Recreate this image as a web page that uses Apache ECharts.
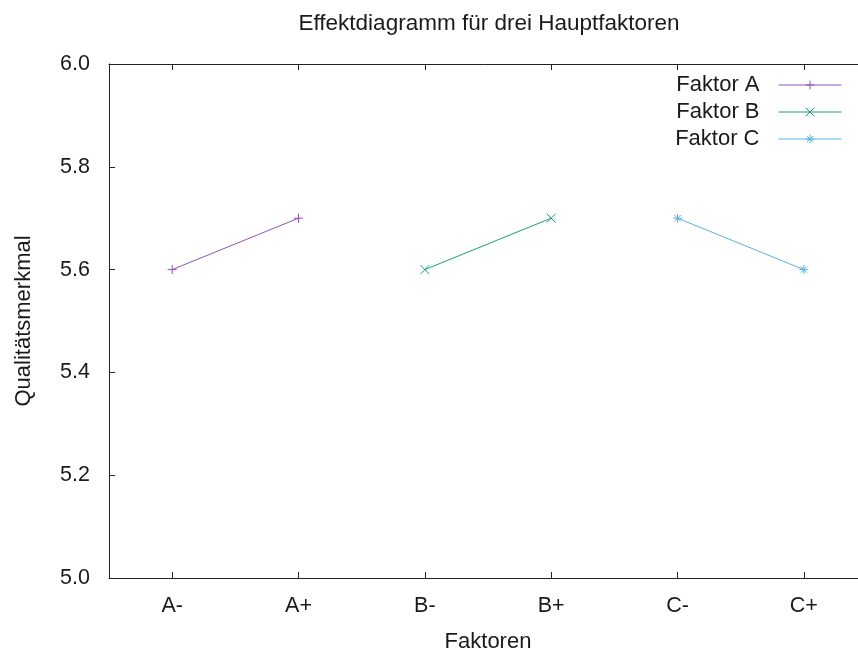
<!DOCTYPE html>
<html>
<head>
<meta charset="utf-8">
<script src="https://cdn.jsdelivr.net/npm/echarts@6/dist/echarts.min.js"></script>
<style>html,body{margin:0;padding:0;background:#fff}#c{width:858px;height:656px}</style>
</head>
<body>
<div id="c"></div>
<script>
var categories = ['A-', 'A+', 'B-', 'B+', 'C-', 'C+'];
var seriesNames = ['Faktor A', 'Faktor B', 'Faktor C'];
var factorACats = ['A-', 'A+'];
var factorAValues = [5.6, 5.7];
var factorBCats = ['B-', 'B+'];
var factorBValues = [5.6, 5.7];
var factorCCats = ['C-', 'C+'];
var factorCValues = [5.7, 5.6];
var yTicks = [5.0, 5.2, 5.4, 5.6, 5.8, 6.0];

var FONT = '"Liberation Sans", Arial, sans-serif';
var colors = ['#9450c4', '#14a47a', '#56b4e9'];
var symbols = [
  'path://M5,0L5,10M0,5L10,5',
  'path://M0,0L10,10M10,0L0,10',
  'path://M5,0L5,10M0,5L10,5M1.5,1.5L8.5,8.5M8.5,1.5L1.5,8.5'
];

function pairs(cats, vals) {
  return cats.map(function (c, i) { return [c, vals[i]]; });
}
var datasets = [pairs(factorACats, factorAValues), pairs(factorBCats, factorBValues), pairs(factorCCats, factorCValues)];

var axisLine = { show: true, lineStyle: { color: '#222', width: 1 } };

var chart = echarts.init(document.getElementById('c'), null, { renderer: 'canvas' });
chart.setOption({
  animation: false,
  backgroundColor: '#fff',
  title: {
    text: 'Effektdiagramm für drei Hauptfaktoren',
    left: 484, textAlign: 'center', top: 7,
    textStyle: { fontFamily: FONT, fontSize: 22.5, fontWeight: 'normal', color: '#1a1a1a' }
  },
  grid: { left: 109, top: 64, width: 758, height: 514, containLabel: false, outerBoundsMode: 'none' },
  legend: {
    orient: 'vertical', right: 11, top: 69, align: 'right',
    itemWidth: 63, itemHeight: 11, itemGap: 5,
    lineStyle: { width: 1 },
    itemStyle: { borderWidth: 1 },
    textStyle: { fontFamily: FONT, fontSize: 22, color: '#1a1a1a', padding: [0, 14, 0, 0] },
    data: seriesNames
  },
  xAxis: [{
    type: 'category', data: categories, position: 'bottom', boundaryGap: true,
    axisLine: axisLine,
    axisTick: { show: true, inside: true, length: 6, alignWithLabel: true, lineStyle: { color: '#222' } },
    axisLabel: { fontFamily: FONT, fontSize: 21.5, color: '#1a1a1a', margin: 17 },
    splitLine: { show: false },
    name: 'Faktoren', nameLocation: 'middle', nameGap: 53,
    nameTextStyle: { fontFamily: FONT, fontSize: 22, color: '#1a1a1a' }
  }, {
    type: 'category', data: categories, position: 'top', boundaryGap: true,
    axisLine: axisLine,
    axisTick: { show: true, inside: true, length: 6, alignWithLabel: true, lineStyle: { color: '#222' } },
    axisLabel: { show: false }, splitLine: { show: false }
  }],
  yAxis: [{
    type: 'value', position: 'left', min: 5.0, max: 6.0, interval: 0.2,
    axisLine: axisLine,
    axisTick: { show: true, inside: true, length: 6, lineStyle: { color: '#222' } },
    axisLabel: { fontFamily: FONT, fontSize: 21.5, color: '#1a1a1a', margin: 19,
      formatter: function (v) { return v.toFixed(1); } },
    splitLine: { show: false },
    name: 'Qualitätsmerkmal', nameLocation: 'middle', nameGap: 74, nameRotate: 90,
    nameTextStyle: { fontFamily: FONT, fontSize: 22, color: '#1a1a1a' }
  }, {
    type: 'value', position: 'right', min: 5.0, max: 6.0, interval: 0.2,
    axisLine: axisLine,
    axisTick: { show: true, inside: true, length: 6, lineStyle: { color: '#222' } },
    axisLabel: { show: false }, splitLine: { show: false }
  }],
  series: seriesNames.map(function (n, i) {
    return {
      name: n, type: 'line', xAxisIndex: 0, yAxisIndex: 0,
      data: datasets[i],
      symbol: symbols[i], symbolSize: 9, showSymbol: true,
      color: colors[i],
      lineStyle: { color: colors[i], width: 1 },
      itemStyle: { color: colors[i], borderColor: colors[i], borderWidth: 1 },
      emphasis: { disabled: true }
    };
  })
});
</script>
</body>
</html>
